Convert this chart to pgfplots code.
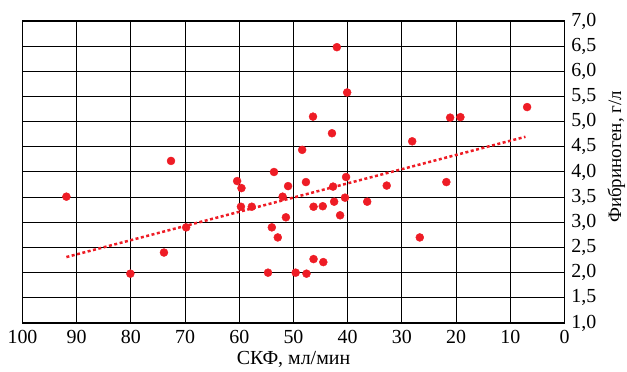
\documentclass[border=0pt]{standalone}
\usepackage{fontspec}
\setmainfont{Liberation Serif}
\usepackage{pgfplots}
\pgfplotsset{compat=1.18}
\definecolor{dotred}{HTML}{EE1C25}
\begin{document}
\fontsize{20}{24}\selectfont
\begin{tikzpicture}
\useasboundingbox (-22.5bp,-49bp) rectangle (604.5bp,323bp);
\begin{axis}[
  scale only axis, width=542bp, height=302bp,
  at={(0,0)}, anchor=south west,
  xmin=0, xmax=100, x dir=reverse, ymin=1, ymax=7,
  xtick={0,10,...,100}, ytick={1,1.5,...,7},
  grid=major, major grid style={black, line width=1bp},
  axis line style={black, line width=1.2bp},
  tick style={draw=none},
  yticklabel pos=right,
  /pgf/number format/assume math mode=true,
  yticklabel style={/pgf/number format/.cd, fixed, fixed zerofill, precision=1, use comma},
  xticklabel style={/pgf/number format/.cd, fixed, precision=0},
  xlabel={СКФ, мл/мин},
  ylabel={Фибриноген, г/л},
  every axis x label/.style={at={(axis description cs:0.5,-0.1358)}, anchor=base},
  every axis y label/.style={at={(axis description cs:1.0955,0.55)}, rotate=90, anchor=center, font=\fontsize{19}{22}\selectfont},
  clip=false,
]
\addplot[dotred, line width=2.5bp, dash pattern=on 3bp off 2.5bp] coordinates {(91.9,2.31) (7.2,4.70)};
\addplot[only marks, mark=*, mark size=4bp, mark options={draw=dotred, fill=dotred}] coordinates {
(91.9,3.51) (80.1,1.98) (73.9,2.40) (72.6,4.22) (69.8,2.90)
(60.4,3.82) (59.6,3.68) (59.7,3.31) (57.7,3.31) (54.7,2.00)
(54.0,2.90) (53.6,4.00) (52.9,2.70) (52.0,3.51) (51.4,3.10)
(51.0,3.72) (49.6,2.00) (48.4,4.44) (47.7,3.80) (47.6,1.98)
(46.4,5.10) (46.3,3.31) (46.3,2.27) (44.6,3.32) (44.5,2.21)
(42.9,4.77) (42.7,3.71) (42.5,3.41) (42.0,6.48) (41.4,3.14)
(40.5,3.49) (40.3,3.90) (40.1,5.58) (36.4,3.41) (32.8,3.73)
(28.1,4.61) (26.7,2.70) (21.8,3.80) (21.1,5.08) (19.2,5.09)
(6.9,5.29)
};
\end{axis}
\end{tikzpicture}
\end{document}
